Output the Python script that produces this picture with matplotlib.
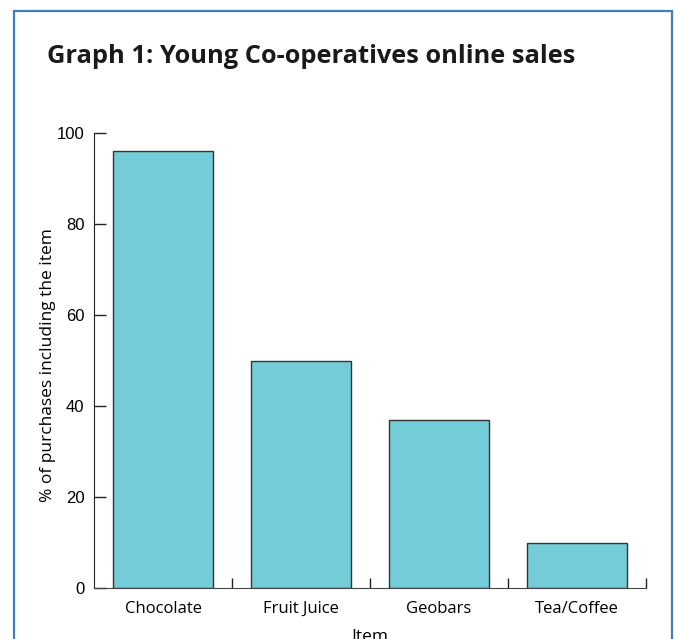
import matplotlib
matplotlib.use("Agg")
import matplotlib.pyplot as plt
from matplotlib.patches import Rectangle

# data
items = ["Chocolate", "Fruit Juice", "Geobars", "Tea/Coffee"]
percent = [96, 50, 37, 10]
y_ticks = [0, 20, 40, 60, 80, 100]

fig = plt.figure(figsize=(6.75, 6.39), dpi=100)

# blue frame around the panel (runs off the bottom edge)
fig.patches.append(Rectangle((14 / 675, -0.05), (672 - 14) / 675, 1.05 - 11 / 639,
                             transform=fig.transFigure, fill=False,
                             edgecolor="#3f7fbf", linewidth=1.6))

fig.text(47 / 675, 1 - 63 / 639, "Graph 1: Young Co-operatives online sales",
         fontsize=18.3, fontweight="bold", family="Open Sans", color="#1a1a1a",
         ha="left", va="baseline")

ax = fig.add_axes([94 / 675, 51 / 639, 552 / 675, 455 / 639])
pos = list(range(len(items)))
ax.bar(pos, percent, width=0.725, color="#74ccd8", edgecolor="#333333", linewidth=1.0)

ax.set_xlim(-0.5, 3.5)
ax.set_ylim(0, 100)
ax.set_yticks(y_ticks)
ax.set_yticklabels([str(v) for v in y_ticks], family="Liberation Sans", fontsize=12)
ax.tick_params(axis="y", direction="in", length=8.6, width=1, pad=7, color="#222222")

ax.set_xticks(pos)
# baseline alignment so "Fruit Juice" sits level with the others
ax.set_xticklabels(items, family="Open Sans", fontsize=12, va="baseline")
ax.tick_params(axis="x", which="major", length=0, pad=18)
ax.set_xticks([p + 0.5 for p in pos], minor=True)
ax.tick_params(axis="x", which="minor", direction="in", length=7.2, width=1, color="#222222")

for s in ["top", "right"]:
    ax.spines[s].set_visible(False)
ax.spines["left"].set_color("#222222")
ax.spines["bottom"].set_color("#444444")

ax.set_ylabel("% of purchases including the item", family="Open Sans", fontsize=12.5)
ax.yaxis.set_label_coords(-0.068, 0.49)
ax.set_xlabel("Item", family="Open Sans", fontsize=12.5)
ax.xaxis.set_label_coords(0.5, -0.09)

plt.savefig("out.png", dpi=100)
plt.close()
